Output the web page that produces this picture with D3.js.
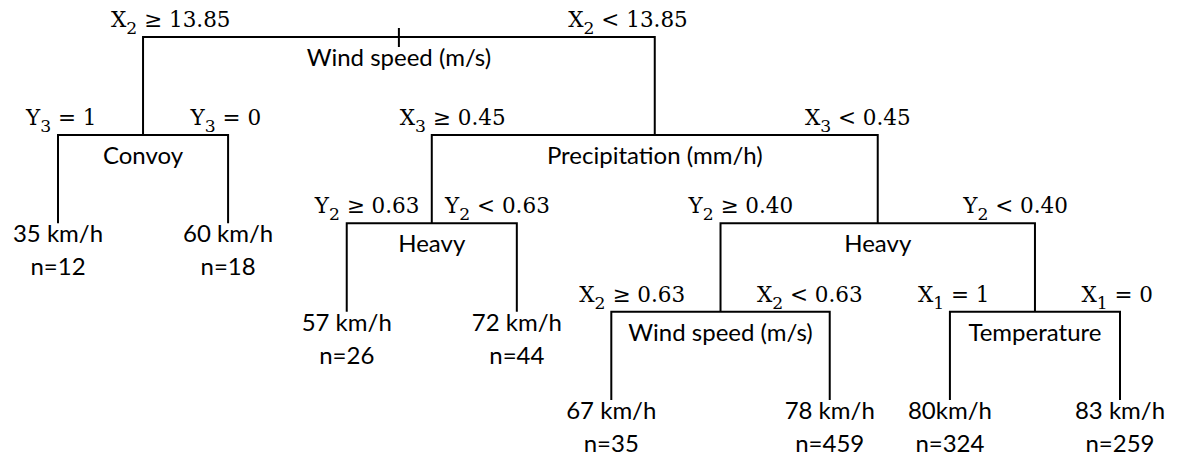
<!DOCTYPE html>
<html><head><meta charset="utf-8">
<script src="https://cdn.jsdelivr.net/npm/d3@7"></script>
<style>html,body{margin:0;padding:0;background:#fff;} svg{display:block}</style>
</head><body>
<svg id="chart" width="1178" height="459"></svg>
<script>
// ---- data ----
const splitLabels = ["Wind speed (m/s)", "Convoy", "Precipitation (mm/h)", "Heavy", "Heavy", "Wind speed (m/s)", "Temperature"];
const splitParents = [null, 0, 0, 2, 2, 4, 4];
const leftConditions = ["X_2 ≥ 13.85", "Y_3 = 1", "X_3 ≥ 0.45", "Y_2 ≥ 0.63", "Y_2 ≥ 0.40", "X_2 ≥ 0.63", "X_1 = 1"];
const rightConditions = ["X_2 < 13.85", "Y_3 = 0", "X_3 < 0.45", "Y_2 < 0.63", "Y_2 < 0.40", "X_2 < 0.63", "X_1 = 0"];
const leafSpeeds = ["35 km/h", "60 km/h", "57 km/h", "72 km/h", "67 km/h", "78 km/h", "80km/h", "83 km/h"];
const leafCounts = [12, 18, 26, 44, 35, 459, 324, 259];
const leafParents = [1, 1, 3, 3, 5, 5, 6, 6];

// ---- style ----
const W = 1178, H = 459;
const sansFont = "Lato, 'Open Sans', sans-serif";
const sansSize = 24;
const mathFont = "'DejaVu Serif', serif";
const mathSize = 21.5;
const minBar = 167;

const svg = d3.select("#chart");

// build hierarchy
const rows = [];
splitLabels.forEach((l, i) => rows.push({id: "s" + i, parent: splitParents[i] == null ? null : "s" + splitParents[i], type: "split", label: l, idx: i}));
leafSpeeds.forEach((l, i) => rows.push({id: "l" + i, parent: "s" + leafParents[i], type: "leaf", label: l, n: leafCounts[i]}));
const root = d3.stratify().id(d => d.id).parentId(d => d.parent)(rows);

// text measurement
const meas = svg.append("text").attr("font-family", sansFont).attr("font-size", sansSize).attr("visibility", "hidden");
function textWidth(s) { meas.text(s); return meas.node().getComputedTextLength(); }

function barWidth(n) { return Math.max(minBar, textWidth(n.data.label) + 30); }

const tree = d3.tree().nodeSize([1, 1]).separation((a, b) => {
  if (a.parent === b.parent && !a.children && !b.children) return barWidth(a.parent);
  if (a.parent === b.parent) return 150;
  return (!a.children && !b.children) ? 118 : 200;
});
tree(root);
meas.remove();

const leaves = root.leaves();
const x = d3.scaleLinear().domain(d3.extent(leaves, d => d.x)).range([58, 1120]);
const y = d3.scaleLinear().domain([0, 1, 4]).range([37, 135, 400]);

const g = svg.append("g");

// root tick
g.append("path")
  .attr("d", `M${x(root.x)},${y(0) - 9}V${y(0) + 10}`)
  .attr("stroke", "#000").attr("stroke-width", 2).attr("fill", "none");

// branches
const internals = root.descendants().filter(d => d.children);
g.selectAll("path.branch").data(internals).join("path")
  .attr("class", "branch")
  .attr("d", d => {
    const c0 = d.children[0], c1 = d.children[d.children.length - 1];
    return `M${x(c0.x)},${y(c0.depth)}V${y(d.depth)}H${x(c1.x)}V${y(c1.depth)}`;
  })
  .attr("stroke", "#000").attr("stroke-width", 2).attr("fill", "none")
  .attr("stroke-linejoin", "miter");

// node labels
g.selectAll("text.node").data(internals).join("text")
  .attr("class", "node")
  .attr("x", d => x(d.x)).attr("y", d => y(d.depth) + 29)
  .attr("text-anchor", "middle")
  .attr("font-family", sansFont).attr("font-size", sansSize)
  .attr("fill", "#000")
  .text(d => d.data.label);

// edge condition labels
const edges = root.descendants().filter(d => d.parent);
const condText = g.selectAll("text.cond").data(edges).join("text")
  .attr("class", "cond")
  .attr("x", d => d.parent.children.indexOf(d) === 0 ? x(d.x) - 32 : x(d.x) + 33)
  .attr("y", d => y(d.parent.depth) - 10)
  .attr("text-anchor", d => d.parent.children.indexOf(d) === 0 ? "start" : "end")
  .attr("font-family", mathFont).attr("font-size", mathSize).attr("fill", "#000");
condText.each(function(d) {
  const i = d.parent.data.idx;
  const s = d.parent.children.indexOf(d) === 0 ? leftConditions[i] : rightConditions[i];
  const [v, rest] = s.split("_");
  const sub = rest[0], tail = rest.slice(1);
  const t = d3.select(this);
  t.append("tspan").text(v);
  t.append("tspan").attr("dy", 7).attr("font-size", mathSize * 0.8).text(sub);
  t.append("tspan").attr("dy", -7).text(tail.replace(/ /g, "\u00a0"));
});

// leaf labels
g.selectAll("text.speed").data(leaves).join("text")
  .attr("class", "speed")
  .attr("x", d => x(d.x)).attr("y", d => y(d.depth) + 19)
  .attr("text-anchor", "middle")
  .attr("font-family", sansFont).attr("font-size", sansSize).attr("fill", "#000")
  .text(d => d.data.label);
g.selectAll("text.count").data(leaves).join("text")
  .attr("class", "count")
  .attr("x", d => x(d.x)).attr("y", d => y(d.depth) + 52)
  .attr("text-anchor", "middle")
  .attr("font-family", sansFont).attr("font-size", sansSize).attr("fill", "#000")
  .text(d => "n=" + d.data.n);
</script>
</body></html>
